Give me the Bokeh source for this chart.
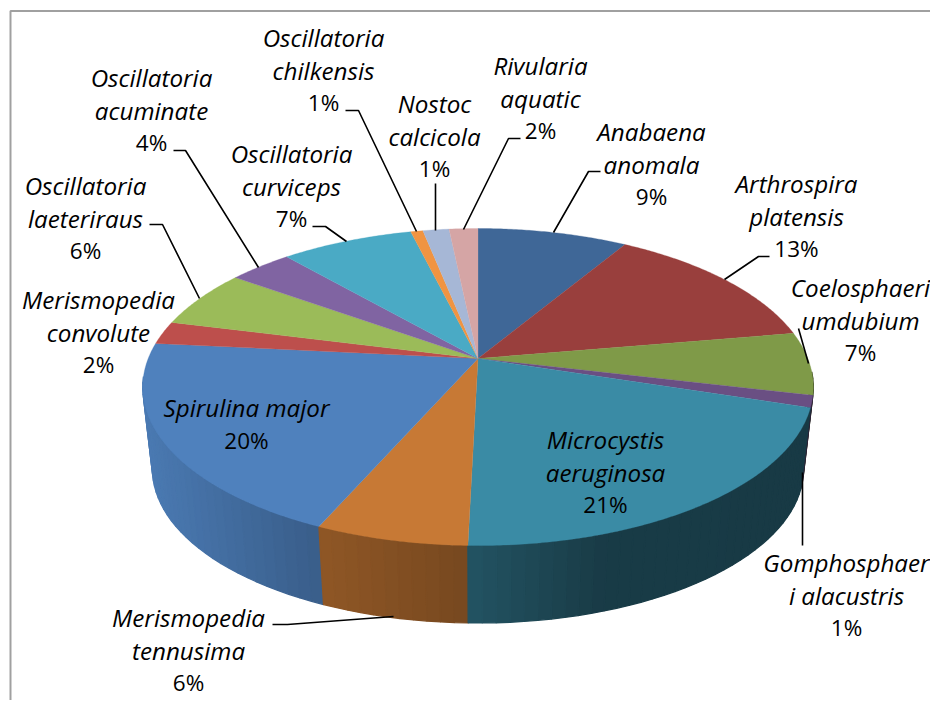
import numpy as np
from bokeh.core.properties import value
from bokeh.embed import file_html
from bokeh.models import Range1d
from bokeh.plotting import figure
from bokeh.resources import INLINE

# ---- data ----
species = ["Anabaena anomala", "Arthrospira platensis", "Coelosphaeri umdubium",
           "Gomphosphaeri alacustris", "Microcystis aeruginosa", "Merismopedia tennusima",
           "Spirulina major", "Merismopedia convolute", "Oscillatoria laeteriraus",
           "Oscillatoria acuminate", "Oscillatoria curviceps", "Oscillatoria chilkensis",
           "Nostoc calcicola", "Rivularia aquatic"]
shares = [8.6, 13.7, 6.4, 1.2, 20.5, 6.2, 20.0, 2.35, 5.95, 3.65, 7.6, 0.7, 1.5, 1.65]
percent_labels = ["9%", "13%", "7%", "1%", "21%", "6%", "20%", "2%", "6%", "4%", "7%", "1%", "1%", "2%"]
name_lines = [["Anabaena", "anomala"], ["Arthrospira", "platensis"], ["Coelosphaeri", "umdubium"],
              ["Gomphosphaer", "i alacustris"], ["Microcystis", "aeruginosa"], ["Merismopedia", "tennusima"],
              ["Spirulina major"], ["Merismopedia", "convolute"], ["Oscillatoria", "laeteriraus"],
              ["Oscillatoria", "acuminate"], ["Oscillatoria", "curviceps"], ["Oscillatoria", "chilkensis"],
              ["Nostoc", "calcicola"], ["Rivularia", "aquatic"]]
colors = ["#3f6797", "#993f3d", "#7f9a48", "#6a4f83", "#3a8ba5", "#c77935", "#4f81bd",
          "#bd4f4c", "#9bbb59", "#8064a2", "#4aaac5", "#f09442", "#a6b7d6", "#d5a5a5"]

# ---- layout (page pixels) ----
label_x = [651, 796, 860, 846, 605, 188, 246, 98, 85, 151, 323 - 32, 323, 434, 540]
label_y = [131, 183, 287, 562, 439, 617, 407, 299, 185, 77, 153, 37, 103, 65]
LINE_STEP = 32.5
leaders = [
    [(600, 171), (588, 171), (553, 232)],
    [(769, 256), (758, 256), (724, 279)],
    [(798, 328), (808, 363)],
    [(802, 545), (802, 472)],
    [(272, 624), (287, 624), (393, 616)],
    [(149, 224), (162, 224), (199, 298)],
    [(173, 150), (185, 150), (258, 267)],
    [(312, 226), (325, 226), (346, 241)],
    [(345, 110), (358, 110), (416, 231)],
    [(435, 183), (435, 230)],
    [(520, 138), (508, 138), (463, 229)],
]
FONT = "Open Sans"
NAME_SIZE = "24.2px"
PCT_SIZE = "22.5px"

APEX_X, APEX_Y = 477.5, 358.0
R, A, C = 329.8, 153.4, -0.18
TOP_CY, BOT_CY, SCALE = 386.5, 468.5, 0.971
SHADE_X = [145, 320, 322, 468, 600, 815]
SHADE_F = [0.95, 0.73, 0.72, 0.60, 0.43, 0.42]
W, H = 930, 700


def top_point(theta):
    u, v = np.sin(theta), -np.cos(theta)
    den = 1 + C * v
    return APEX_X + R * u / den, APEX_Y + A * v / den


def bottom_point(theta):
    x, y = top_point(theta)
    return APEX_X + SCALE * (x - APEX_X), BOT_CY + SCALE * (y - TOP_CY)


def shaded(color, f):
    r, g, b = (int(color[i:i + 2], 16) for i in (1, 3, 5))
    return "#%02x%02x%02x" % (int(r * f), int(g * f), int(b * f))


p = figure(width=W, height=H, output_backend="svg", toolbar_location=None,
           x_range=Range1d(0, W), y_range=Range1d(H, 0),
           x_axis_type=None, y_axis_type=None, min_border=0, outline_line_color=None)
p.grid.visible = False

# chart border
p.line([10, 10, W], [H, 10.5, 10.5], line_color="#a0a0a0", line_width=2)

edges = np.cumsum([0] + shares) / sum(shares) * 2 * np.pi

# side walls
quads = []
for i, col in enumerate(colors):
    n = max(2, int(np.degrees(edges[i + 1] - edges[i]) / 2.0))
    ts = np.linspace(edges[i], edges[i + 1], n + 1)
    for a, b in zip(ts[:-1], ts[1:]):
        mid = (a + b) / 2
        if -np.cos(mid) < 0.1:
            continue
        x0, y0 = top_point(a)
        x1, y1 = top_point(b)
        x2, y2 = bottom_point(b)
        x3, y3 = bottom_point(a)
        f = float(np.interp((x0 + x1 + x2 + x3) / 4, SHADE_X, SHADE_F))
        quads.append((-np.cos(mid), [x0, x1, x2, x3], [y0, y1, y2, y3], shaded(col, f)))
quads.sort(key=lambda q: q[0])
p.patches([q[1] for q in quads], [q[2] for q in quads], fill_color=[q[3] for q in quads],
          line_color=[q[3] for q in quads], line_width=1.3)

# top faces
xs, ys = [], []
for i in range(len(shares)):
    ts = np.linspace(edges[i], edges[i + 1], max(4, int(np.degrees(edges[i + 1] - edges[i])) * 2))
    x, y = top_point(ts)
    xs.append([APEX_X] + list(x))
    ys.append([APEX_Y] + list(y))
p.patches(xs, ys, fill_color=colors, line_color=colors, line_width=0.3)

# leaders
p.multi_line([[pt[0] for pt in l] for l in leaders], [[pt[1] for pt in l] for l in leaders],
             line_color="black", line_width=1.6)

# labels
tx, ty, tt = [], [], []
px, py, pt = [], [], []
for i, lines in enumerate(name_lines):
    for k, line in enumerate(lines):
        tx.append(label_x[i])
        ty.append(label_y[i] + k * LINE_STEP)
        tt.append(line)
    px.append(label_x[i])
    py.append(label_y[i] + len(lines) * LINE_STEP)
    pt.append(percent_labels[i])
p.text(tx, ty, text=tt, text_font=value(FONT), text_font_size=value(NAME_SIZE), text_font_style="italic",
       text_align="center", text_baseline="middle", text_color="black")
p.text(px, py, text=pt, text_font=value(FONT), text_font_size=value(PCT_SIZE),
       text_align="center", text_baseline="middle", text_color="black")

open("out.html", "w").write(file_html(p, INLINE))
